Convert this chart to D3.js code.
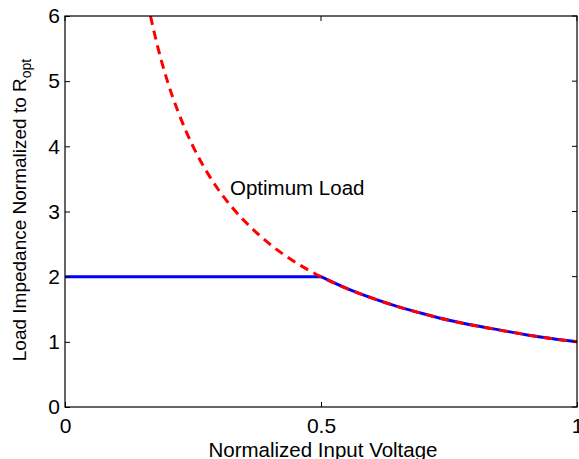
<!DOCTYPE html>
<html>
<head>
<meta charset="utf-8">
<script src="https://cdn.jsdelivr.net/npm/d3@7"></script>
<style>
body { margin:0; background:#fff; }
text { font-family: "Liberation Sans", Arial, sans-serif; }
</style>
</head>
<body>
<div id="chart"></div>
<script>
// optimum load curve (red dashed)
var optX = [0.167, 0.18, 0.2, 0.22, 0.25, 0.28, 0.3, 0.33, 0.36, 0.4, 0.45, 0.5, 0.55, 0.6, 0.65, 0.7, 0.75, 0.8, 0.85, 0.9, 0.95, 1];
var optY = [6, 5.56, 5, 4.55, 4, 3.57, 3.33, 3.03, 2.78, 2.5, 2.22, 2, 1.82, 1.67, 1.54, 1.43, 1.33, 1.25, 1.18, 1.11, 1.05, 1];
// actual load (blue solid): flat part, then following the optimum
var flatX = [0, 0.5];
var flatY = [2, 2];
var tailX = [0.5, 0.55, 0.6, 0.65, 0.7, 0.75, 0.8, 0.85, 0.9, 0.95, 1];
var tailY = [2, 1.82, 1.67, 1.54, 1.43, 1.33, 1.25, 1.18, 1.11, 1.05, 1];
var xTicks = [0, 0.5, 1];
var xTickLabels = ["0", "0.5", "1"];
var yTicks = [0, 1, 2, 3, 4, 5, 6];

var width = 579, height = 459;
var margin = {left:65, right:2, top:16, bottom:52};

var svg = d3.select("#chart").append("svg")
	.attr("width", width)
	.attr("height", height);

var x = d3.scaleLinear().domain([0,1]).range([margin.left, width-margin.right]);
var y = d3.scaleLinear().domain([0,6]).range([height-margin.bottom, margin.top]);

var line = d3.line()
	.x(function(d){ return x(d[0]); })
	.y(function(d){ return y(d[1]); })
	.curve(d3.curveMonotoneX);

function pairs(a, b){ return a.map(function(v,i){ return [v, b[i]]; }); }

svg.selectAll(".blue")
	.data([pairs(flatX, flatY), pairs(tailX, tailY)])
	.enter().append("path")
	.attr("class","blue")
	.attr("d", line)
	.attr("fill","none")
	.attr("stroke","#0000ff")
	.attr("stroke-width",3);

svg.append("path")
	.datum(pairs(optX, optY))
	.attr("d", line)
	.attr("fill","none")
	.attr("stroke","#ff0000")
	.attr("stroke-width",3)
	.attr("stroke-dasharray","9,6");

// frame
svg.append("rect")
	.attr("x", x(0)).attr("y", y(6))
	.attr("width", x(1)-x(0)).attr("height", y(0)-y(6))
	.attr("fill","none").attr("stroke","#000").attr("stroke-width",1.2);

// axes with inward ticks
var xAxis = svg.append("g")
	.attr("transform","translate(0,"+y(0)+")")
	.call(d3.axisBottom(x).tickValues(xTicks).tickSizeInner(-5).tickSizeOuter(0)
		.tickFormat(function(d,i){ return xTickLabels[i]; }));
xAxis.select(".domain").remove();
xAxis.attr("font-size", 21).attr("font-family", null);
xAxis.selectAll("text").attr("y", 11).attr("fill","#000");

var yAxis = svg.append("g")
	.attr("transform","translate("+x(0)+",0)")
	.call(d3.axisLeft(y).tickValues(yTicks).tickFormat(d3.format("d")).tickSizeInner(-5).tickSizeOuter(0));
yAxis.select(".domain").remove();
yAxis.attr("font-size", 21).attr("font-family", null);
yAxis.selectAll("text").attr("x", -5).attr("fill","#000");

// top/right ticks
svg.selectAll(".ttick").data(xTicks).enter().append("line")
	.attr("x1", function(d){ return x(d); }).attr("x2", function(d){ return x(d); })
	.attr("y1", y(6)).attr("y2", y(6)+5).attr("stroke","#000");
svg.selectAll(".rtick").data(yTicks).enter().append("line")
	.attr("x1", x(1)).attr("x2", x(1)-5)
	.attr("y1", function(d){ return y(d); }).attr("y2", function(d){ return y(d); })
	.attr("stroke","#000");

svg.append("text")
	.attr("x", 323).attr("y", 457)
	.attr("text-anchor","middle").attr("font-size",20.5)
	.text("Normalized Input Voltage");

var yl = svg.append("text")
	.attr("transform","translate(26,210) rotate(-90)")
	.attr("text-anchor","middle").attr("font-size",19);
yl.append("tspan").text("Load Impedance Normalized to R");
yl.append("tspan").attr("font-size",14).attr("dy",5).text("opt");

svg.append("text")
	.attr("x", 230).attr("y", 195)
	.attr("font-size",20.5)
	.text("Optimum Load");
</script>
</body>
</html>
